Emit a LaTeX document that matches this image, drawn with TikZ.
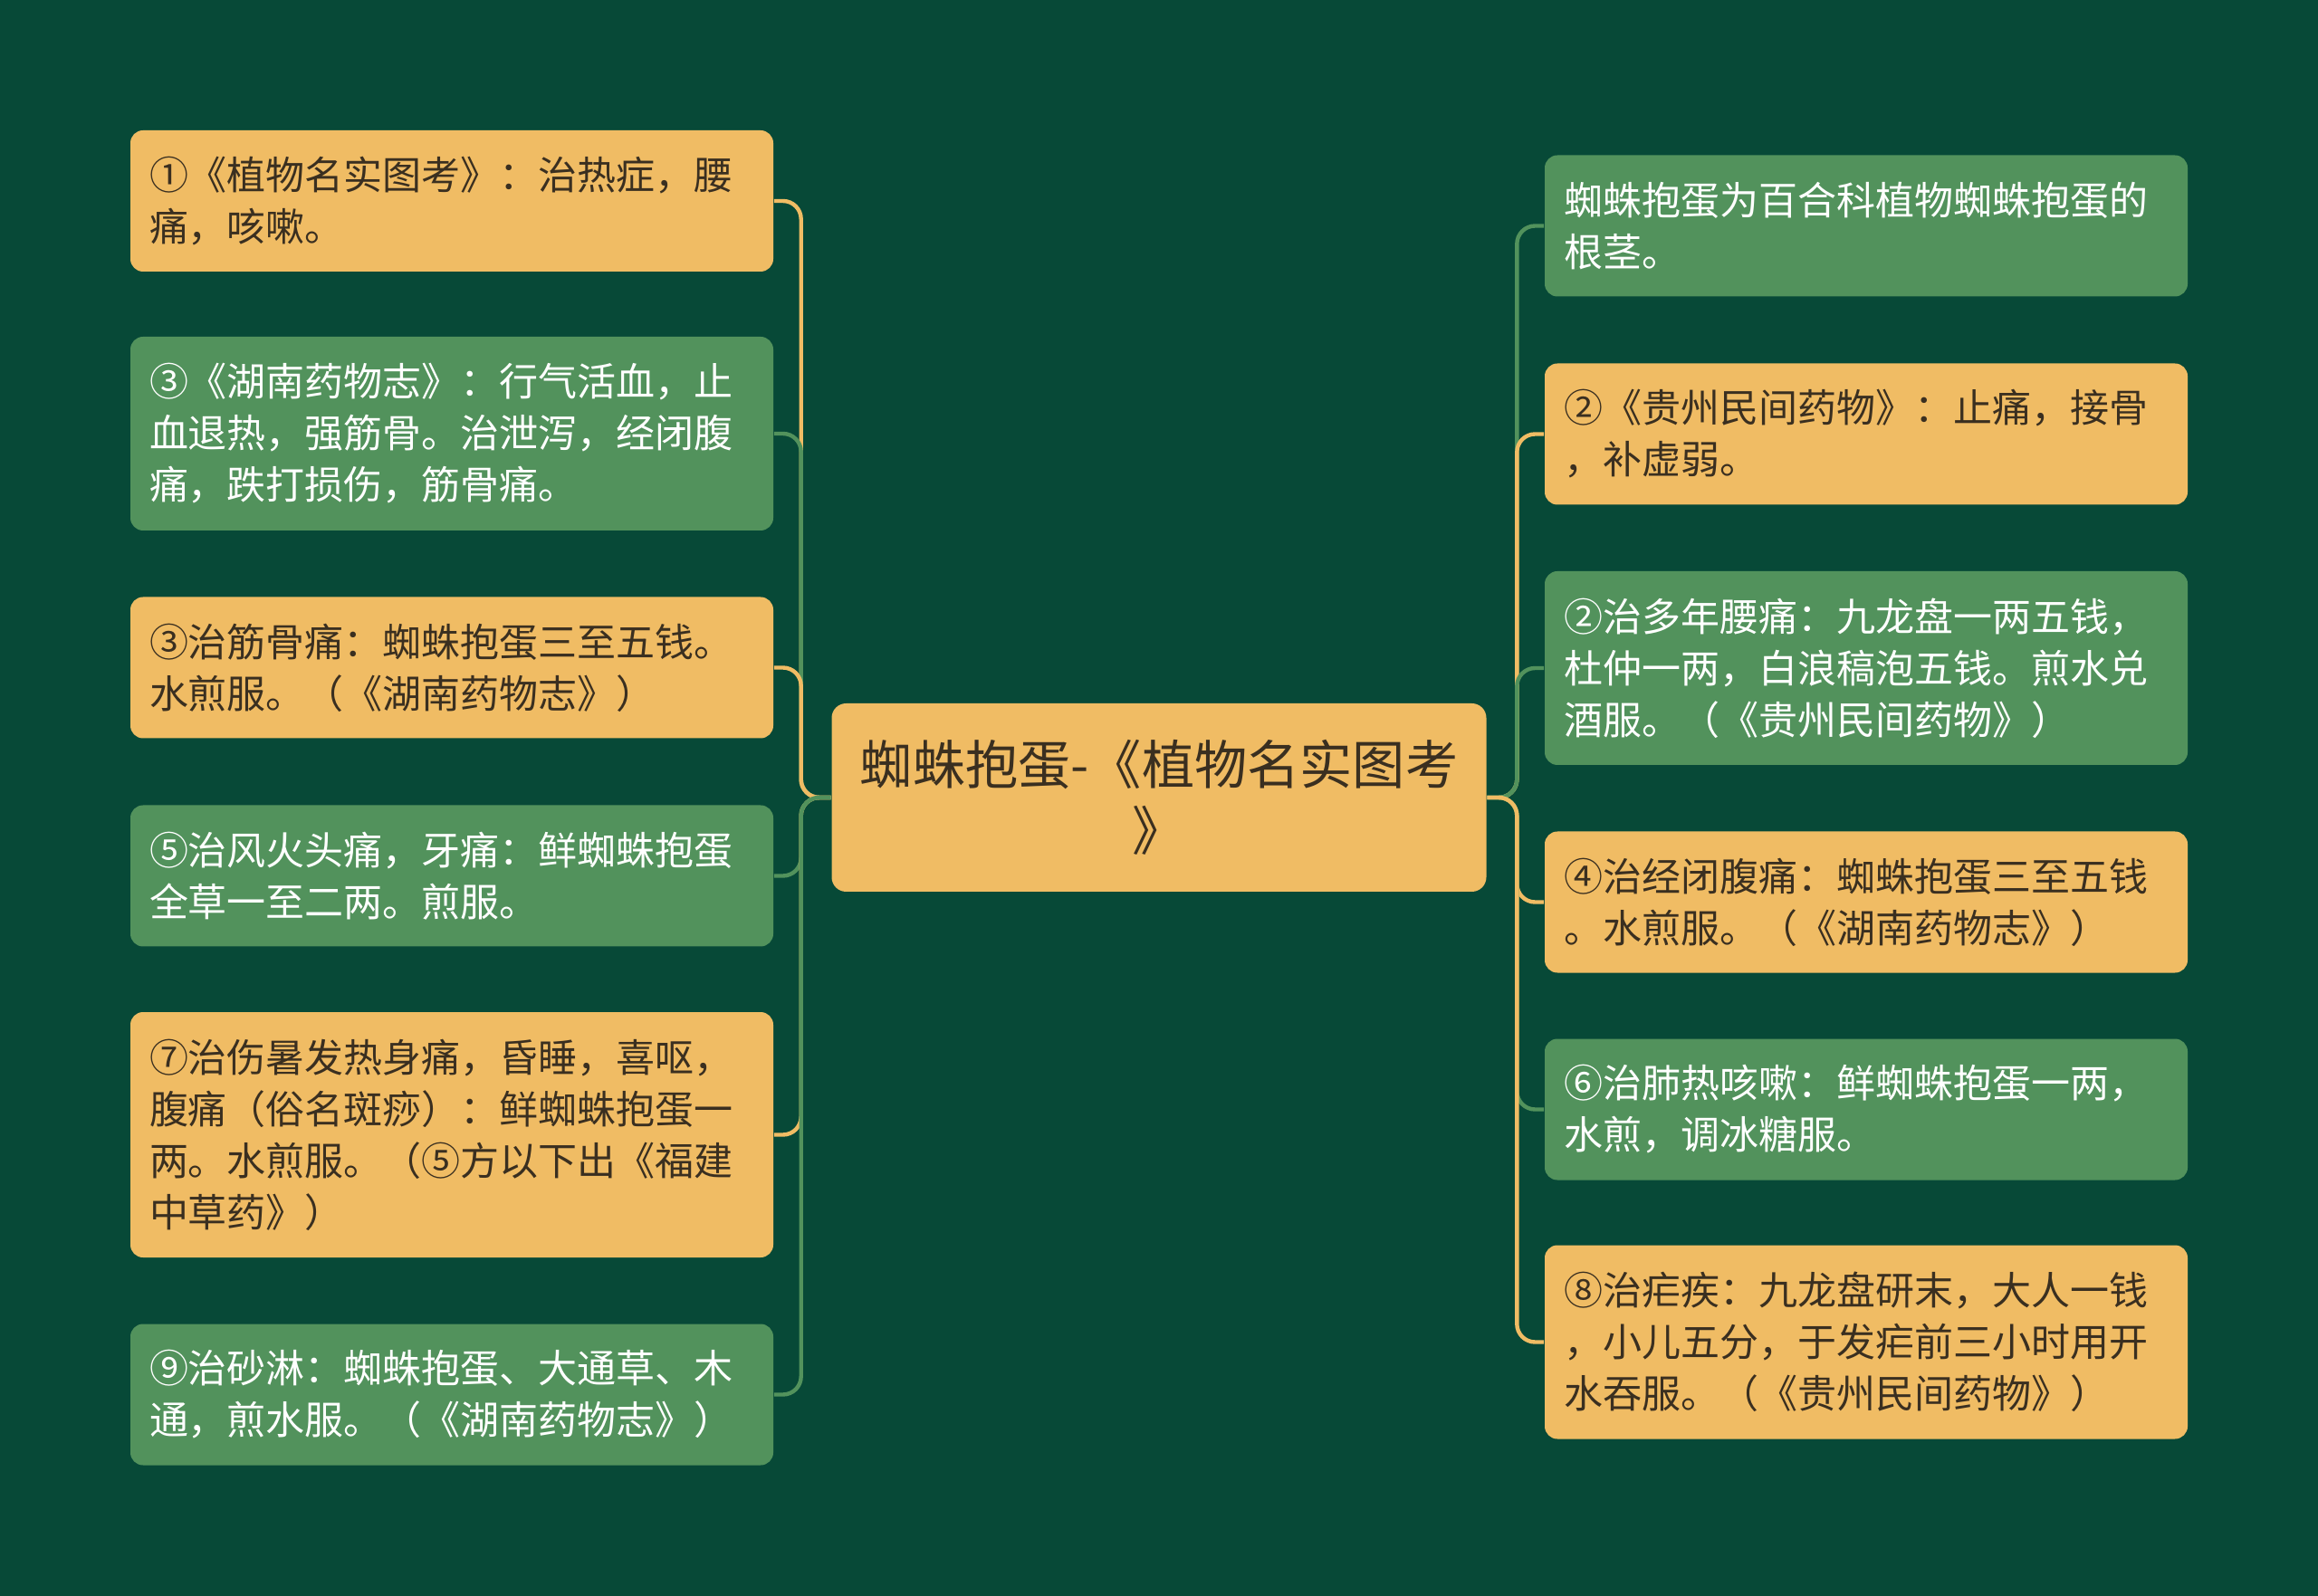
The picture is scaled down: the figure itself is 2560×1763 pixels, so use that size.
\documentclass[tikz,border=0pt]{standalone}
\usepackage{fontspec}
\setmainfont{Noto Sans CJK SC}

\definecolor{bgcol}{HTML}{074937}
\definecolor{boxyellow}{HTML}{F0BC64}
\definecolor{boxgreen}{HTML}{52925C}
\definecolor{textdark}{HTML}{3A2F20}

\tikzset{
  leaf/.style={rounded corners=3.5pt, minimum width=177.5pt, text width=167pt,
    inner xsep=5.25pt, inner ysep=0pt, align=left,
    font=\fontsize{10.75pt}{14.25pt}\selectfont},
  yleaf/.style={leaf, fill=boxyellow, text=textdark},
  gleaf/.style={leaf, fill=boxgreen, text=white},
  lines2/.style={minimum height=39pt},
  lines3/.style={minimum height=53.5pt},
  lines4/.style={minimum height=67.75pt},
  yline/.style={draw=boxyellow, line width=1.1pt, rounded corners=5pt},
  gline/.style={draw=boxgreen, line width=1.1pt, rounded corners=5pt}
}

\begin{document}
\begin{tikzpicture}[x=0.25pt, y=-0.25pt]
        \fill[bgcol] (0,0) rectangle (2560,1763);
        \useasboundingbox (0,0) rectangle (2560,1763);

        \node[yleaf, rounded corners=4pt, minimum width=180.75pt, minimum height=52pt, text width=170pt,
          align=center, font=\fontsize{14.55pt}{18.25pt}\selectfont] (root) at (1280,881)
          {蜘蛛抱蛋-《植物名实图考\\》};

        \node[yleaf, lines2] (l1) at (499,222) {①《植物名实图考》：治热症，腰\\痛，咳嗽。};
        \node[gleaf, lines3] (l2) at (499,479) {③《湖南药物志》：行气活血，止\\血退热，强筋骨。治泄泻，经闭腹\\痛，跌打损伤，筋骨痛。};
        \node[yleaf, lines2] (l3) at (499,737.5) {③治筋骨痛：蜘蛛抱蛋三至五钱。\\水煎服。（《湖南药物志》）};
        \node[gleaf, lines2] (l4) at (499,967.5) {⑤治风火头痛，牙痛：鲜蜘蛛抱蛋\\全草一至二两。煎服。};
        \node[yleaf, lines4] (l5) at (499,1253.5) {⑦治伤暑发热身痛，昏睡，喜呕，\\腹痛（俗名斑痧）：鲜蜘蛛抱蛋一\\两。水煎服。（⑤方以下出《福建\\中草药》）};
        \node[gleaf, lines2] (l6) at (499,1540.5) {⑨治砂淋：蜘蛛抱蛋、大通草、木\\通，煎水服。（《湖南药物志》）};

        \node[gleaf, lines2] (r1) at (2061,249.5) {蜘蛛抱蛋为百合科植物蜘蛛抱蛋的\\根茎。};
        \node[yleaf, lines2] (r2) at (2061,479.5) {②《贵州民间药物》：止痛，接骨\\，补虚弱。};
        \node[gleaf, lines3] (r3) at (2061,738) {②治多年腰痛：九龙盘一两五钱，\\杜仲一两，白浪稿泡五钱。煎水兑\\酒服。（《贵州民间药物》）};
        \node[yleaf, lines2] (r4) at (2061,996.5) {④治经闭腹痛：蜘蛛抱蛋三至五钱\\。水煎服。（《湖南药物志》）};
        \node[gleaf, lines2] (r5) at (2061,1225.5) {⑥治肺热咳嗽：鲜蜘蛛抱蛋一两，\\水煎，调冰糖服。};
        \node[yleaf, lines3] (r6) at (2061,1482.5) {⑧治疟疾：九龙盘研末，大人一钱\\，小儿五分，于发疟前三小时用开\\水吞服。（《贵州民间药物》）};

        \draw[yline] (root.west) -- ++(-33,0) |- (l1.east);
        \draw[gline] (root.west) -- ++(-33,0) |- (l2.east);
        \draw[yline] (root.west) -- ++(-33,0) |- (l3.east);
        \draw[gline] (root.west) -- ++(-33,0) |- (l4.east);
        \draw[yline] (root.west) -- ++(-33,0) |- (l5.east);
        \draw[gline] (root.west) -- ++(-33,0) |- (l6.east);

        \draw[gline] (root.east) -- ++(33,0) |- (r1.west);
        \draw[yline] (root.east) -- ++(33,0) |- (r2.west);
        \draw[gline] (root.east) -- ++(33,0) |- (r3.west);
        \draw[yline] (root.east) -- ++(33,0) |- (r4.west);
        \draw[gline] (root.east) -- ++(33,0) |- (r5.west);
        \draw[yline] (root.east) -- ++(33,0) |- (r6.west);
\end{tikzpicture}
\end{document}
